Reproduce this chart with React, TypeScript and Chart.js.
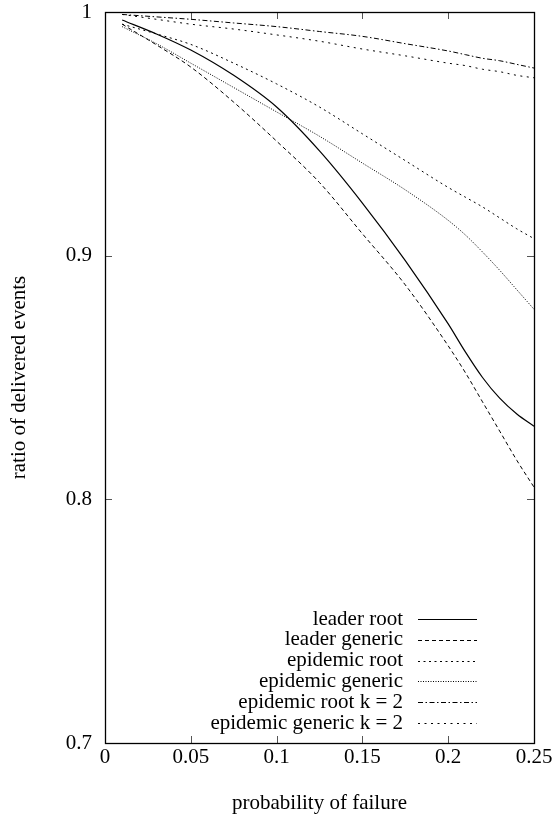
import { useEffect, useRef } from "react";
import { Chart, registerables } from "chart.js";

Chart.register(...registerables);

// ---- data ----
const xValues = [0.01, 0.03, 0.05, 0.075, 0.1, 0.125, 0.15, 0.175, 0.2, 0.21, 0.22, 0.23, 0.24, 0.25];

const leaderRoot = [0.9967, 0.991, 0.9844, 0.974, 0.961, 0.943, 0.9216, 0.898, 0.872, 0.8605, 0.85, 0.8415, 0.835, 0.83];
const leaderGeneric = [0.995, 0.9865, 0.9774, 0.963, 0.947, 0.93, 0.909, 0.888, 0.863, 0.852, 0.84, 0.828, 0.816, 0.805];
const epidemicRoot = [0.995, 0.991, 0.9867, 0.979, 0.9705, 0.961, 0.95, 0.939, 0.928, 0.924, 0.92, 0.9155, 0.911, 0.907];
const epidemicGeneric = [0.994, 0.987, 0.979, 0.969, 0.959, 0.949, 0.938, 0.927, 0.9145, 0.9085, 0.9015, 0.894, 0.886, 0.878];
const epidemicRootK2 = [0.999, 0.998, 0.997, 0.9955, 0.994, 0.992, 0.99, 0.987, 0.984, 0.9825, 0.981, 0.98, 0.9785, 0.977];
const epidemicGenericK2 = [0.999, 0.997, 0.995, 0.993, 0.9906, 0.988, 0.9848, 0.982, 0.979, 0.978, 0.9765, 0.9755, 0.974, 0.973];

const seriesNames = [
  "leader root",
  "leader generic",
  "epidemic root",
  "epidemic generic",
  "epidemic root k = 2",
  "epidemic generic k = 2",
];

const xTickValues = [0, 0.05, 0.1, 0.15, 0.2, 0.25];
const yTickValues = [0.7, 0.8, 0.9, 1];

const xTitle = "probability of failure";
const yTitle = "ratio of delivered events";

// ---- styles ----
const FONT_FAMILY = "'Liberation Serif', 'DejaVu Serif', serif";
const FONT_SIZE = 21;
const dashes: number[][] = [[], [4, 3], [2, 3.5], [1, 1.5], [5, 2.5, 1.5, 2.5], [2, 4.5]];
const widths = [1.2, 1, 1, 1, 1, 1];

const framePlugin = {
  id: "gnuFrame",
  afterDatasetsDraw(chart: any) {
    const { ctx, chartArea } = chart;
    const { left, right, top, bottom } = chartArea;
    const xs = chart.scales.x;
    const ys = chart.scales.y;
    const tl = 7;
    ctx.save();
    // tick marks (inward, mirrored)
    ctx.strokeStyle = "#555";
    ctx.lineWidth = 1;
    ctx.beginPath();
    xTickValues.forEach((v) => {
      const px = Math.round(xs.getPixelForValue(v)) + 0.5;
      ctx.moveTo(px, bottom);
      ctx.lineTo(px, bottom - tl);
      ctx.moveTo(px, top);
      ctx.lineTo(px, top + tl);
    });
    yTickValues.forEach((v) => {
      const py = Math.round(ys.getPixelForValue(v)) + 0.5;
      ctx.moveTo(left, py);
      ctx.lineTo(left + tl, py);
      ctx.moveTo(right, py);
      ctx.lineTo(right - tl, py);
    });
    ctx.stroke();
    // frame
    ctx.strokeStyle = "#000";
    ctx.lineWidth = 1.3;
    ctx.strokeRect(left + 0.5, top + 0.5, right - left, bottom - top);

    // legend (gnuplot style: right-aligned text, sample on right)
    const textRight = 403;
    const sampleLeft = 418;
    const sampleRight = 477;
    const firstRow = 619;
    const rowStep = 20.8;
    ctx.font = `${FONT_SIZE}px ${FONT_FAMILY}`;
    ctx.fillStyle = "#000";
    ctx.textAlign = "right";
    ctx.textBaseline = "middle";
    chart.data.datasets.forEach((ds: any, i: number) => {
      const y = firstRow + i * rowStep;
      ctx.fillText(ds.label, textRight, y);
      ctx.beginPath();
      ctx.setLineDash(ds.borderDash || []);
      ctx.lineWidth = ds.borderWidth;
      ctx.strokeStyle = ds.borderColor;
      ctx.moveTo(sampleLeft, Math.round(y) + 0.5);
      ctx.lineTo(sampleRight, Math.round(y) + 0.5);
      ctx.stroke();
    });
    ctx.setLineDash([]);
    ctx.restore();
  },
};

export default function App() {
  const ref = useRef<HTMLCanvasElement | null>(null);

  useEffect(() => {
    if (!ref.current) return;
    const series = [leaderRoot, leaderGeneric, epidemicRoot, epidemicGeneric, epidemicRootK2, epidemicGenericK2];
    const font = { family: FONT_FAMILY, size: FONT_SIZE };
    const chart = new Chart(ref.current, {
      type: "line",
      data: {
        datasets: series.map((vals, i) => ({
          label: seriesNames[i],
          data: vals.map((y, j) => ({ x: xValues[j], y })),
          borderColor: "#000",
          borderWidth: widths[i],
          borderDash: dashes[i],
          pointRadius: 0,
          fill: false,
          cubicInterpolationMode: "monotone" as const,
        })),
      },
      options: {
        animation: false,
        responsive: false,
        devicePixelRatio: 1,
        layout: { padding: { left: 0, top: 12, right: 22, bottom: 0 } },
        plugins: {
          legend: { display: false },
          tooltip: { enabled: false },
        },
        scales: {
          x: {
            type: "linear",
            min: 0,
            max: 0.25,
            grid: { display: false, drawTicks: false },
            border: { display: false },
            ticks: {
              font,
              color: "#000",
              padding: 2,
              autoSkip: false,
              maxRotation: 0,
              callback: (v: any) => String(v),
            },
            afterBuildTicks: (s: any) => {
              s.ticks = xTickValues.map((value) => ({ value }));
            },
            afterFit: (s: any) => {
              s.height = 73;
              s.paddingLeft = 0;
              s.paddingRight = 0;
            },
            title: {
              display: true,
              text: xTitle,
              font,
              color: "#000",
              padding: { top: 5, bottom: 0 },
            },
          },
          y: {
            type: "linear",
            min: 0.7,
            max: 1,
            grid: { display: false, drawTicks: false },
            border: { display: false },
            ticks: {
              font,
              color: "#000",
              padding: 13,
              autoSkip: false,
              callback: (v: any) => String(v),
            },
            afterBuildTicks: (s: any) => {
              s.ticks = yTickValues.map((value) => ({ value }));
            },
            afterFit: (s: any) => {
              s.width = 105;
              s.paddingTop = 0;
              s.paddingBottom = 0;
            },
            title: {
              display: true,
              text: yTitle,
              font,
              color: "#000",
              padding: { top: 7, bottom: 0 },
            },
          },
        },
      },
      plugins: [framePlugin],
    });
    return () => chart.destroy();
  }, []);

  return (
    <div style={{ position: "absolute", left: 0, top: 0, width: 556, height: 816, background: "#fff" }}>
      <canvas ref={ref} width={556} height={816} style={{ display: "block" }} />
    </div>
  );
}
